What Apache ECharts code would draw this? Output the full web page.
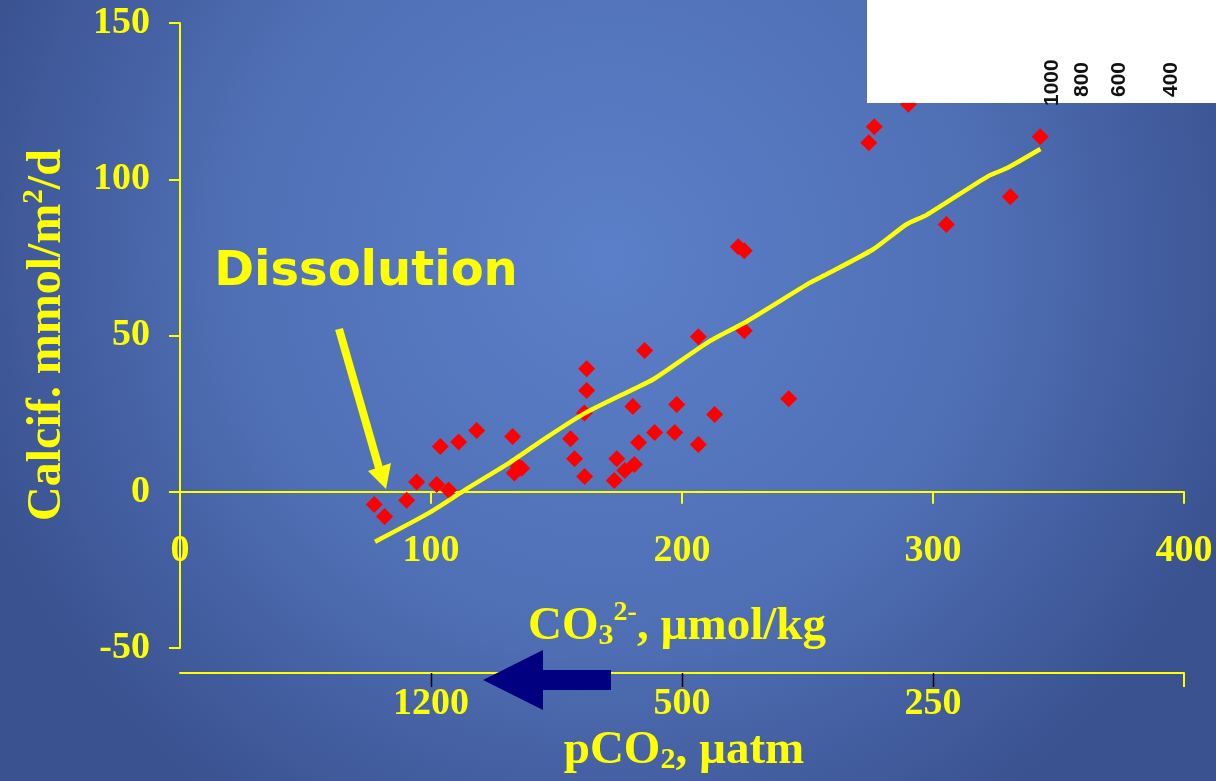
<!DOCTYPE html>
<html>
<head>
<meta charset="utf-8">
<script src="https://cdn.jsdelivr.net/npm/echarts@6/dist/echarts.min.js"></script>
<style>
  html, body { margin: 0; padding: 0; background: #3f5a9a; }
  #chart { width: 1216px; height: 781px; }
</style>
</head>
<body>
<div id="chart"></div>
<script>
// Carbonate ion concentration (µmol/kg) vs. calcification rate (mmol/m²/d)
const co3 = [77.4, 81.5, 90.3, 94.3, 102.3, 107.0, 103.7, 111.0, 118.2, 132.5,
             134.8, 133.2, 136.1, 155.6, 157.2, 161.2, 162.0, 162.0, 161.1, 185.1,
             180.4, 174.0, 173.0, 177.2, 181.0, 182.7, 189.1, 197.1, 197.9, 206.5,
             213.0, 206.5, 222.4, 224.8, 224.8, 242.5, 276.6, 274.4, 290.2, 342.7,
             330.8, 305.3];
const calcif = [-4.1, -7.9, -2.7, 3.1, 2.3, 0.6, 14.5, 15.9, 19.6, 17.7,
                8.0, 6.0, 7.5, 17.0, 10.6, 4.9, 39.4, 32.4, 25.2, 45.2,
                27.3, 10.6, 3.6, 6.8, 8.7, 15.8, 19.0, 19.0, 27.9, 15.1,
                24.7, 49.6, 78.4, 77.1, 51.5, 29.8, 116.8, 111.7, 124.0, 113.6,
                94.4, 85.5];

// Fitted trend
const fitX = [77.7, 99.6, 114.2, 131.5, 146.1, 161.0, 180.6, 188.6, 211.2, 225.8,
              251.0, 257.6, 276.2, 289.5, 297.5, 322.0, 329.3, 342.8];
const fitY = [-16.0, -6.6, 0.9, 9.4, 17.4, 25.0, 32.8, 36.0, 48.3, 54.5,
              66.9, 69.6, 77.6, 85.6, 88.6, 101.0, 103.5, 109.7];

// Equivalent pCO2 (µatm) at CO3 positions
const pco2At = [100, 200, 300];
const pco2Labels = ['1200', '500', '250'];

// Scale labels on the inset panel
const insetLabels = ['1000', '800', '600', '400'];
const insetX = [1052, 1082, 1119, 1171];
const insetBottom = [106, 97, 97, 97];

const YELLOW = '#ffff00';
const SERIF = '"Liberation Serif", "Times New Roman", serif';

const points = co3.map((x, i) => [x, calcif[i]]);
const fit = fitX.map((x, i) => [x, fitY[i]]);
const pcoMap = {};
pco2At.forEach((v, i) => { pcoMap[v] = pco2Labels[i]; });

const GRID_TOP = 23, GRID_BOTTOM = 133, H = 781;
const Y_MIN = -50, Y_MAX = 150;
const PCO2_OFFSET = 25;
// distance from the plot bottom up to the zero line
const zeroOffset = (0 - Y_MIN) / (Y_MAX - Y_MIN) * (H - GRID_TOP - GRID_BOTTOM);

const chart = echarts.init(document.getElementById('chart'), null, { renderer: 'canvas' });

const insetTexts = insetLabels.map((t, i) => ({
  type: 'text',
  x: insetX[i], y: insetBottom[i],
  rotation: Math.PI / 2,
  z: 101,
  style: {
    text: t, fill: '#111111',
    font: 'bold 21px "Liberation Sans", Arial, sans-serif',
    align: 'left', verticalAlign: 'middle'
  }
}));

chart.setOption({
  backgroundColor: {
    type: 'radial', x: 0.5, y: 0.33, r: 0.85,
    colorStops: [
      { offset: 0, color: '#5b7fc8' },
      { offset: 0.55, color: '#5070b6' },
      { offset: 1, color: '#3a5290' }
    ]
  },
  animation: false,
  grid: { left: 180, right: 32, top: GRID_TOP, bottom: GRID_BOTTOM },
  xAxis: [
    {
      type: 'value', min: 0, max: 400, interval: 100,
      position: 'bottom', offset: -zeroOffset,
      axisLine: { onZero: false, lineStyle: { color: YELLOW, width: 2 } },
      axisTick: { show: true, length: 12, lineStyle: { color: YELLOW, width: 2 } },
      axisLabel: {
        color: YELLOW, fontFamily: SERIF, fontWeight: 'bold', fontSize: 38,
        margin: 40
      },
      splitLine: { show: false }
    },
    {
      type: 'value', min: 0, max: 400, position: 'bottom', offset: PCO2_OFFSET,
      axisLine: { onZero: false, lineStyle: { color: YELLOW, width: 2 } },
      axisTick: { show: false },
      axisLabel: {
        customValues: pco2At,
        formatter: v => pcoMap[v] || '',
        color: YELLOW, fontFamily: SERIF, fontWeight: 'bold', fontSize: 38,
        margin: 12
      },
      splitLine: { show: false }
    },
    {
      type: 'value', min: 0, max: 400, position: 'bottom', offset: PCO2_OFFSET,
      axisLine: { show: false, onZero: false },
      axisTick: { show: true, length: 14, customValues: [400], lineStyle: { color: YELLOW, width: 2 } },
      axisLabel: { show: false },
      splitLine: { show: false }
    }
  ],
  yAxis: {
    type: 'value', min: Y_MIN, max: Y_MAX, interval: 50,
    axisLine: { show: true, onZero: false, lineStyle: { color: YELLOW, width: 2 } },
    axisTick: { show: true, length: 11, lineStyle: { color: YELLOW, width: 2 } },
    axisLabel: {
      color: YELLOW, fontFamily: SERIF, fontWeight: 'bold', fontSize: 38,
      margin: 30
    },
    splitLine: { show: false }
  },
  series: [
    {
      type: 'scatter', xAxisIndex: 0,
      data: points,
      symbol: 'diamond', symbolSize: [17, 17],
      itemStyle: { color: '#ff0000', opacity: 1 },
      z: 3
    },
    {
      type: 'line', xAxisIndex: 0,
      data: fit,
      showSymbol: false,
      lineStyle: { color: YELLOW, width: 4.5 },
      smooth: 0.2,
      z: 4
    },
    {
      // small dark tick marks on the pCO2 scale
      type: 'custom', xAxisIndex: 0,
      data: pco2At.map(v => [v, Y_MIN]),
      clip: false, silent: true, z: 10,
      renderItem: (params, api) => {
        const p = api.coord([api.value(0), api.value(1)]);
        const x = Math.round(p[0]) + 0.5;
        const y0 = p[1] + PCO2_OFFSET;
        return {
          type: 'line',
          shape: { x1: x, y1: y0, x2: x, y2: y0 + 14 },
          style: { stroke: '#000000', lineWidth: 1.5 }
        };
      }
    }
  ],
  graphic: [
    // inset panel
    { type: 'rect', shape: { x: 867, y: 0, width: 349, height: 103 }, style: { fill: '#ffffff' }, z: 100 },
    ...insetTexts,
    // axis titles
    {
      type: 'text', x: 48, y: 335, rotation: Math.PI / 2, z: 10,
      style: {
        text: 'Calcif. mmol/m{sup|2}/d',
        fill: YELLOW, font: 'bold 48px ' + SERIF,
        align: 'center', verticalAlign: 'middle',
        rich: {
          sup: { fill: YELLOW, fontSize: 29, fontWeight: 'bold', fontFamily: SERIF, verticalAlign: 'top', padding: [0, 0, 27, 0] }
        }
      }
    },
    {
      type: 'text', x: 677, y: 627, z: 10,
      style: {
        text: 'CO{sub|3}{sup|2-}, \u00b5mol/kg',
        fill: YELLOW, font: 'bold 47px ' + SERIF,
        align: 'center', verticalAlign: 'middle',
        rich: {
          sub: { fill: YELLOW, fontSize: 30, fontWeight: 'bold', fontFamily: SERIF, padding: [18, 0, 0, 0] },
          sup: { fill: YELLOW, fontSize: 28, fontWeight: 'bold', fontFamily: SERIF, padding: [0, 0, 28, 0] }
        }
      }
    },
    {
      type: 'text', x: 684, y: 751, z: 10,
      style: {
        text: 'pCO{sub|2}, \u00b5atm',
        fill: YELLOW, font: 'bold 47px ' + SERIF,
        align: 'center', verticalAlign: 'middle',
        rich: {
          sub: { fill: YELLOW, fontSize: 30, fontWeight: 'bold', fontFamily: SERIF, padding: [18, 0, 0, 0] }
        }
      }
    },
    // Dissolution annotation
    {
      type: 'text', x: 366, y: 273, z: 10,
      style: {
        text: 'Dissolution', fill: YELLOW,
        font: 'bold 48px "DejaVu Sans", Arial, sans-serif',
        align: 'center', verticalAlign: 'middle'
      }
    },
    {
      type: 'line', z: 10,
      shape: { x1: 339, y1: 329, x2: 379, y2: 468 },
      style: { stroke: YELLOW, lineWidth: 8 }
    },
    {
      type: 'polygon', z: 10,
      shape: { points: [[368, 471], [391, 463], [386, 489]] },
      style: { fill: YELLOW }
    },
    // direction arrow (higher pCO2 to the left)
    {
      type: 'polygon', z: 10,
      shape: { points: [[483, 680], [543, 650], [543, 670], [611, 670], [611, 690], [543, 690], [543, 710]] },
      style: { fill: '#000080' }
    }
  ]
});
</script>
</body>
</html>
